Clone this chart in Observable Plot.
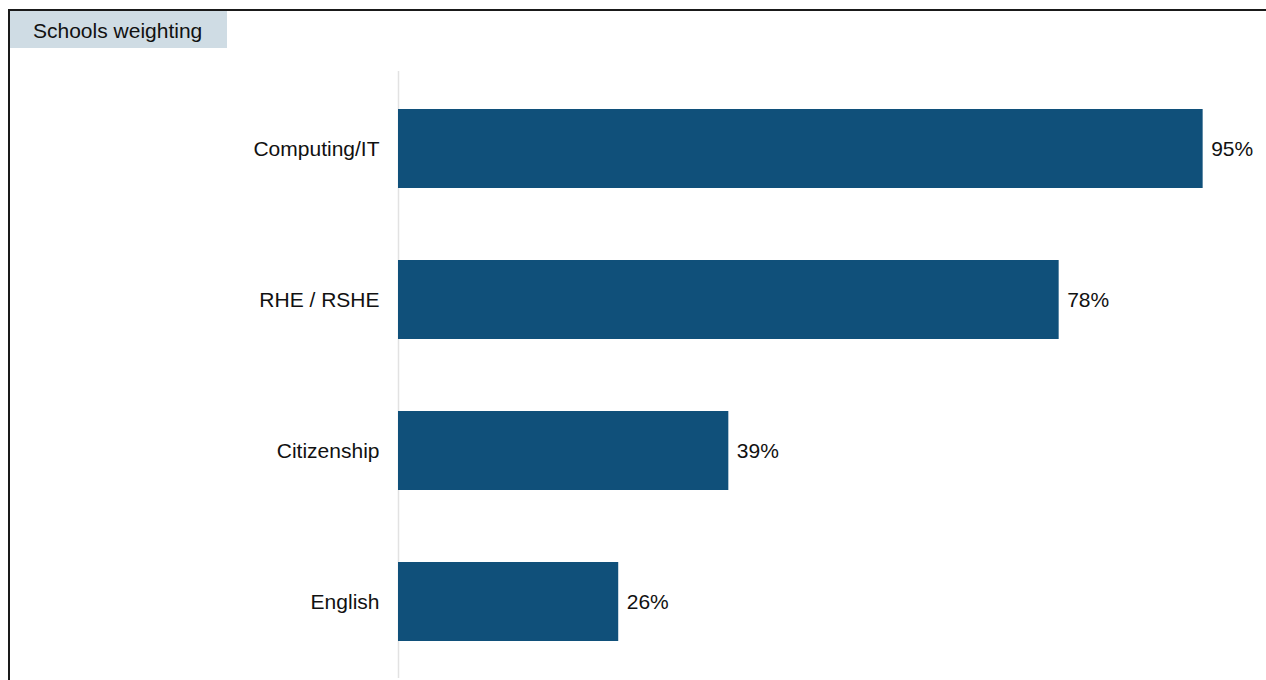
<!DOCTYPE html>
<html>
<head>
<meta charset="utf-8">
<script src="https://cdn.jsdelivr.net/npm/d3@7"></script>
<script src="https://cdn.jsdelivr.net/npm/@observablehq/plot@0.6"></script>
<style>
  html, body { margin: 0; padding: 0; background: #fff; }
  #wrap { position: relative; width: 1266px; height: 680px; overflow: hidden; font-family: "Liberation Sans", Arial, sans-serif; }
  #frameTop { position: absolute; left: 8px; top: 9px; width: 1258px; height: 2px; background: #1a1a1a; }
  #frameLeft { position: absolute; left: 8px; top: 9px; width: 2px; height: 671px; background: #1a1a1a; }
  #tag { position: absolute; left: 10px; top: 11px; width: 217px; height: 37px; background: #cfdce4; color: #111; font-size: 21px; line-height: 39px; box-sizing: border-box; padding-left: 23px; white-space: nowrap; }
  #chart { position: absolute; left: 0; top: 0; }
</style>
</head>
<body>
<div id="wrap">
  <div id="chart"></div>
  <div id="frameTop"></div>
  <div id="frameLeft"></div>
  <div id="tag">Schools weighting</div>
</div>
<script>
const subjects = ["Computing/IT", "RHE / RSHE", "Citizenship", "English"];
const shares = [95, 78, 39, 26];

const data = subjects.map((s, i) => ({subject: s, value: shares[i]}));

const chart = Plot.plot({
  width: 1266,
  height: 680,
  marginTop: 71,
  marginBottom: 2,
  marginLeft: 398,
  marginRight: 21,
  style: {fontFamily: "Liberation Sans, Arial, sans-serif", fontSize: "21px", color: "#111", background: "transparent"},
  x: {domain: [0, 100], axis: null},
  y: {domain: subjects, paddingInner: 0.48, paddingOuter: 0.24, label: null, tickSize: 0, tickPadding: 19},
  marks: [
    Plot.ruleX([0], {stroke: "#e2e2e2", strokeWidth: 1.5}),
    Plot.barX(data, {x: "value", y: "subject", fill: "#10507a"}),
    Plot.text(data, {x: "value", y: "subject", text: d => d.value + "%", textAnchor: "start", dx: 8, fill: "#111", fontSize: 21}),
    Plot.axisY({tickSize: 0, tickPadding: 19, label: null, fontSize: 21})
  ]
});
document.getElementById("chart").appendChild(chart);
</script>
</body>
</html>
